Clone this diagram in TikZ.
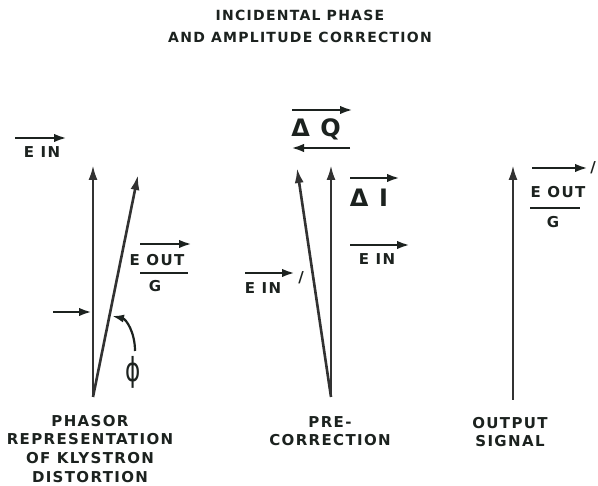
\documentclass[tikz,border=0pt]{standalone}
\usepackage{fontspec}
\usetikzlibrary{arrows.meta}
\newfontfamily\lett{DejaVu Sans}[LetterSpace=9]
\definecolor{ink}{RGB}{28,34,31}
\definecolor{lineink}{RGB}{50,50,50}
\tikzset{
  lab/.style={text=ink, inner sep=0pt, font=\lett\bfseries\fontsize{15}{18.6}\selectfont},
  ttl/.style={text=ink, inner sep=0pt, align=center, font=\lett\bfseries\fontsize{14}{22}\selectfont},
  big/.style={text=ink, inner sep=0pt, font=\lett\bfseries\fontsize{24}{26}\selectfont},
  vec/.style={draw=lineink, line width=2.6pt, -{Latex[length=15pt,width=9pt]}},
  over/.style={draw=ink, line width=2.8pt, -{Latex[length=13pt,width=8.5pt]}},
  bar/.style={draw=ink, line width=2.5pt},
}
\begin{document}
\begin{tikzpicture}[x=1pt,y=-1pt]
\useasboundingbox (0,0) rectangle (598,486);
\fill[white] (0,0) rectangle (598,486);

% title
\node[ttl] (title) at (300,26) {INCIDENTAL PHASE\\AND AMPLITUDE CORRECTION};

% ---------- left diagram ----------
\coordinate (o1) at (93,397);
\coordinate (v1) at (93,165);
\coordinate (s1) at (138,175);
\draw[vec] (o1) -- (v1);
\draw[vec] (o1) -- (s1);

\coordinate (einLa) at (15,138); \coordinate (einLb) at (67,138);
\draw[over] (einLa) -- (einLb);
\node[lab] (einL) at (42,152) {E IN};

\coordinate (eoutLa) at (140,244); \coordinate (eoutLb) at (192,244);
\draw[over] (eoutLa) -- (eoutLb);
\node[lab] (eoutL) at (157,260) {E OUT};
\coordinate (fracLa) at (140,273); \coordinate (fracLb) at (188,273);
\draw[bar] (fracLa) -- (fracLb);
\node[lab] (gL) at (155,286) {G};

\coordinate (ptrA) at (53,312); \coordinate (ptrB) at (92,312);
\draw[over] (ptrA) -- (ptrB);

\coordinate (cvA) at (135,351); \coordinate (cvB) at (112,316);
\draw[draw=ink, line width=2.2pt, -{Latex[length=12pt,width=8pt]}]
  (cvA) .. controls (135,332) and (126,319) .. (cvB);
\node[text=ink, inner sep=0pt] (phi) at (133,372)
  {\scalebox{0.7}[1]{\lett\fontsize{33}{33}\selectfont ϕ}};

\node[lab, align=center, anchor=north] (labL) at (90,415)
  {PHASOR\\REPRESENTATION\\OF KLYSTRON\\DISTORTION};

% ---------- middle diagram ----------
\coordinate (o2) at (331,397);
\coordinate (v2) at (331,165);
\coordinate (s2) at (297,168);
\draw[vec] (o2) -- (v2);
\draw[vec] (o2) -- (s2);

\coordinate (dqa) at (292,110); \coordinate (dqb) at (353,110);
\draw[over] (dqa) -- (dqb);
\node[big] (dq) at (316,129) {Δ Q};
\coordinate (dqc) at (350,148); \coordinate (dqd) at (291,148);
\draw[over] (dqc) -- (dqd);

\coordinate (dia) at (350,178); \coordinate (dib) at (400,178);
\draw[over] (dia) -- (dib);
\node[big] (di) at (369,198) {Δ I};

\coordinate (einRa) at (350,245); \coordinate (einRb) at (410,245);
\draw[over] (einRa) -- (einRb);
\node[lab] (einR) at (377,259) {E IN};

\coordinate (einMa) at (245,273); \coordinate (einMb) at (295,273);
\draw[over] (einMa) -- (einMb);
\node[lab] (einM) at (263,288) {E IN};
\node[lab, font=\lett\bfseries\fontsize{15}{15}\selectfont] (primeM) at (301,278) {/};

\node[lab, align=center, anchor=north] (labM) at (330,416)
  {PRE-\\CORRECTION};

% ---------- right diagram ----------
\coordinate (o3) at (513,400);
\coordinate (v3) at (513,165);
\draw[vec] (o3) -- (v3);

\coordinate (eoutRa) at (532,168); \coordinate (eoutRb) at (588,168);
\draw[over] (eoutRa) -- (eoutRb);
\node[lab, font=\lett\bfseries\fontsize{15}{15}\selectfont] (primeR) at (593,168) {/};
\node[lab] (eoutR) at (558,192) {E OUT};
\coordinate (fracRa) at (530,208); \coordinate (fracRb) at (580,208);
\draw[bar] (fracRa) -- (fracRb);
\node[lab] (gR) at (553,222) {G};

\node[lab, align=center, anchor=north] (labR) at (510,417)
  {OUTPUT\\SIGNAL};
\end{tikzpicture}
\end{document}
